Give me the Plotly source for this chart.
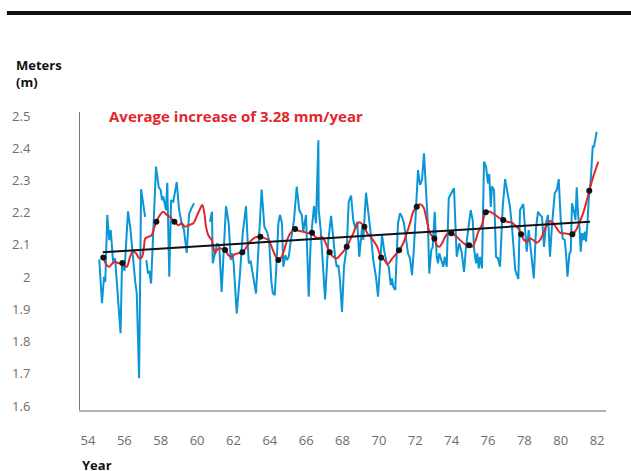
import plotly.graph_objects as go

# ---------------- data ----------------
blue_year = [54.62, 54.77, 54.88, 54.95, 55.06, 55.17, 55.25, 55.34, 55.38, 55.49, 55.79, 55.87, 56.01,
             56.20, 56.33, 56.59, 56.68, 56.81, 56.92, 57.14, None,
             57.21, 57.30, 57.37, 57.47, 57.74, 57.89, 58.00, 58.07, 58.14, 58.29, 58.36, 58.47, 58.57,
             58.69, 58.88, 59.01, 59.15, 59.28, 59.43, 59.56, 59.68, 59.83, None,
             60.71, 60.82, 60.86, 60.99, 61.11, 61.22, 61.35, 61.59, 61.74, 61.85, 61.94, 62.01, 62.18,
             62.36, 62.51, 62.69, 62.84, 62.95, 63.06, 63.15, 63.24, 63.39, 63.55, 63.70, 63.85, 63.96,
             64.08, 64.16, 64.27, 64.38, 64.47, 64.56, 64.67, 64.74, 64.85, 64.95, 65.04, 65.11, 65.22,
             65.33, 65.48, 65.62, 65.76, 65.84, 65.99, 66.14, 66.25, 66.43, 66.54, 66.67, 66.69, 66.80,
             67.04, 67.22, 67.37, 67.49, 67.59, 67.68, 67.77, 67.86, 67.97, 68.08, 68.23, 68.34, 68.47,
             68.59, 68.70, 68.81, 68.92, 69.07, 69.14, 69.29, 69.44, 69.55, 69.69, 69.84, 69.95, 70.06,
             70.17, 70.30, 70.43, 70.54, 70.65, 70.72, 70.79, 70.90, 71.05, 71.16, 71.27, 71.38, 71.49,
             71.60, 71.71, 71.82, 71.93, 72.04, 72.15, 72.26, 72.37, 72.48, 72.59, 72.70, 72.77, 72.88,
             72.96, 73.07, 73.18, 73.25, 73.32, 73.43, 73.54, 73.62, 73.73, 73.84, 73.98, 74.13, 74.28,
             74.42, 74.56, 74.68, 74.79, 74.92, 75.05, 75.16, 75.23, 75.34, 75.41, 75.49, 75.56, 75.67,
             75.78, 75.89, 76.00, 76.07, 76.15, 76.22, 76.33, 76.44, 76.55, 76.66, 76.81, 76.94, 77.06,
             77.21, 77.32, 77.39, 77.50, 77.67, 77.76, 77.94, 78.05, 78.13, 78.24, 78.31, 78.41, 78.52,
             78.64, 78.75, 78.86, 78.97, 79.08, 79.19, 79.30, 79.41, 79.52, 79.67, 79.78, 79.89, 80.00,
             80.11, 80.22, 80.29, 80.37, 80.48, 80.55, 80.62, 80.73, 80.81, 80.88, 80.95, 81.03, 81.10,
             81.17, 81.25, 81.32, 81.39, 81.47, 81.54, 81.65, 81.76, 81.83, 81.91, 81.98]
blue_value = [2.055, 1.919, 2.001, 1.985, 2.193, 2.115, 2.146, 2.053, 2.048, 2.058, 1.826, 2.040, 2.020,
              2.204, 2.151, 1.990, 1.950, 1.686, 2.273, 2.187, None,
              2.053, 2.011, 2.020, 1.980, 2.343, 2.279, 2.270, 2.239, 2.250, 2.208, 2.293, 2.001, 2.239,
              2.234, 2.295, 2.209, 2.167, 2.146, 2.075, 2.197, 2.212, 2.229, None,
              2.172, 2.203, 2.043, 2.074, 2.105, 2.095, 1.954, 2.220, 2.167, 2.053, 2.074, 2.043, 1.887,
              2.011, 2.136, 2.220, 2.043, 2.048, 2.011, 1.975, 1.949, 2.105, 2.272, 2.156, 2.140, 2.115,
              1.990, 1.951, 1.944, 2.053, 2.167, 2.193, 2.167, 2.032, 2.068, 2.053, 2.063, 2.094, 2.136,
              2.177, 2.281, 2.208, 2.193, 2.141, 2.193, 1.939, 2.115, 2.220, 2.167, 2.425, 2.208, 2.146,
              1.931, 2.115, 2.190, 2.115, 2.063, 2.032, 2.037, 1.990, 1.892, 2.032, 2.094, 2.234, 2.253,
              2.177, 2.151, 2.172, 2.063, 2.151, 2.115, 2.262, 2.198, 2.136, 2.053, 2.001, 1.939, 2.053,
              2.130, 2.079, 2.043, 2.032, 1.975, 1.996, 1.970, 1.960, 2.167, 2.198, 2.187, 2.167, 2.115,
              2.074, 2.058, 2.006, 2.094, 2.218, 2.332, 2.286, 2.301, 2.384, 2.265, 2.156, 2.011, 2.084,
              2.094, 2.203, 2.063, 2.043, 2.074, 2.053, 2.032, 2.063, 2.032, 2.245, 2.260, 2.276, 2.063,
              2.105, 2.074, 2.016, 2.094, 2.156, 2.208, 2.177, 2.089, 2.043, 2.074, 2.027, 2.063, 2.027,
              2.358, 2.343, 2.291, 2.320, 2.218, 2.281, 2.270, 2.063, 2.058, 2.032, 2.218, 2.304, 2.270,
              2.218, 2.156, 2.094, 2.022, 1.994, 2.208, 2.227, 2.156, 2.079, 2.146, 2.105, 2.058, 1.996,
              2.151, 2.203, 2.193, 2.187, 2.094, 2.167, 2.193, 2.063, 2.161, 2.260, 2.270, 2.304, 2.177,
              2.120, 2.115, 2.074, 2.001, 2.074, 2.079, 2.229, 2.203, 2.177, 2.279, 2.198, 2.156, 2.079,
              2.136, 2.115, 2.141, 2.110, 2.167, 2.239, 2.301, 2.405, 2.405, 2.434, 2.451]

smooth_year = [54.84, 55.03, 55.17, 55.30, 55.49, 55.67, 55.89, 56.13, 56.31, 56.46, 56.64, 56.82, 56.97,
               57.08, 57.15, 57.32, 57.50, 57.63, 57.76, 57.96, 58.14, 58.33, 58.51, 58.75, 58.97, 59.15,
               59.34, 59.52, 59.79, 60.01, 60.20, 60.29, 60.40, 60.49, 60.62, 60.80, 60.99, 61.08, 61.26,
               61.54, 61.72, 61.90, 62.09, 62.27, 62.49, 62.73, 62.91, 63.19, 63.48, 63.74, 63.92, 64.10,
               64.29, 64.47, 64.65, 64.84, 65.02, 65.20, 65.39, 65.57, 65.84, 66.12, 66.32, 66.49, 66.67,
               66.86, 67.04, 67.29, 67.49, 67.68, 67.86, 68.04, 68.23, 68.41, 68.59, 68.74, 68.89, 69.03,
               69.20, 69.36, 69.55, 69.73, 69.91, 70.12, 70.30, 70.49, 70.67, 70.89, 71.11, 71.34, 71.53,
               71.71, 71.89, 72.08, 72.26, 72.44, 72.63, 72.81, 73.05, 73.18, 73.32, 73.47, 73.64, 73.82,
               73.98, 74.19, 74.46, 74.74, 74.96, 75.11, 75.29, 75.47, 75.66, 75.88, 76.11, 76.39, 76.66,
               76.84, 77.06, 77.30, 77.49, 77.67, 77.82, 77.98, 78.13, 78.31, 78.49, 78.68, 78.86, 79.04,
               79.23, 79.41, 79.59, 79.78, 79.96, 80.14, 80.42, 80.64, 80.79, 80.97, 81.16, 81.34, 81.57,
               81.79, 82.07]
smooth_value = [2.061, 2.037, 2.032, 2.040, 2.048, 2.043, 2.044, 2.032, 2.063, 2.079, 2.074, 2.058, 2.063,
                2.094, 2.120, 2.125, 2.130, 2.151, 2.172, 2.193, 2.203, 2.193, 2.187, 2.172, 2.161, 2.167,
                2.156, 2.161, 2.167, 2.193, 2.216, 2.224, 2.198, 2.156, 2.130, 2.115, 2.074, 2.084, 2.089,
                2.084, 2.068, 2.063, 2.071, 2.074, 2.077, 2.094, 2.110, 2.123, 2.125, 2.120, 2.115, 2.094,
                2.068, 2.053, 2.063, 2.094, 2.125, 2.141, 2.151, 2.144, 2.141, 2.136, 2.138, 2.125, 2.120,
                2.125, 2.110, 2.077, 2.063, 2.058, 2.068, 2.079, 2.094, 2.115, 2.136, 2.156, 2.170, 2.167,
                2.156, 2.136, 2.125, 2.110, 2.094, 2.061, 2.053, 2.040, 2.053, 2.068, 2.083, 2.105, 2.136,
                2.167, 2.203, 2.218, 2.226, 2.218, 2.177, 2.136, 2.120, 2.099, 2.094, 2.105, 2.125, 2.136,
                2.136, 2.130, 2.115, 2.102, 2.099, 2.094, 2.110, 2.141, 2.161, 2.201, 2.203, 2.193, 2.182,
                2.177, 2.172, 2.169, 2.161, 2.151, 2.133, 2.115, 2.110, 2.120, 2.115, 2.107, 2.115, 2.136,
                2.161, 2.174, 2.167, 2.151, 2.138, 2.136, 2.134, 2.133, 2.141, 2.161, 2.187, 2.218, 2.268,
                2.312, 2.358]

annual_year = [54.84, 55.89, 57.76, 58.75, 61.54, 62.49, 63.48, 64.47, 65.39, 66.32, 67.29, 68.23,
               69.20, 70.12, 71.11, 72.08, 73.05, 73.98, 74.96, 75.88, 76.84, 77.82, 80.64, 81.57]
annual_value = [2.061, 2.044, 2.172, 2.172, 2.084, 2.077, 2.125, 2.053, 2.149, 2.138, 2.077, 2.094,
                2.156, 2.061, 2.083, 2.218, 2.120, 2.136, 2.099, 2.201, 2.177, 2.133, 2.133, 2.268]

trend_year = [54.81, 81.61]
trend_value = [2.077, 2.172]

x_ticks = list(range(54, 83, 2))
y_ticks = [1.6, 1.7, 1.8, 1.9, 2.0, 2.1, 2.2, 2.3, 2.4, 2.5]
y_tick_text = ["1.6", "1.7", "1.8", "1.9", "2", "2.1", "2.2", "2.3", "2.4", "2.5"]

annotation_text = "Average increase of 3.28 mm/year"

# ---------------- figure ----------------
BLUE = "#0a96d6"
RED = "#e2262b"
FONT = "Open Sans"

fig = go.Figure()
fig.add_trace(go.Scatter(x=blue_year, y=blue_value, mode="lines",
                         line=dict(color=BLUE, width=2), connectgaps=False, hoverinfo="skip"))
fig.add_trace(go.Scatter(x=smooth_year, y=smooth_value, mode="lines",
                         line=dict(color=RED, width=2, shape="spline", smoothing=1.0), hoverinfo="skip"))
fig.add_trace(go.Scatter(x=trend_year, y=trend_value, mode="lines",
                         line=dict(color="#111111", width=2), hoverinfo="skip"))
fig.add_trace(go.Scatter(x=annual_year, y=annual_value, mode="markers",
                         marker=dict(color="#111111", size=6), hoverinfo="skip"))

fig.update_layout(
    width=631, height=471,
    margin=dict(l=80, r=25, t=112, b=61),
    paper_bgcolor="white", plot_bgcolor="white",
    showlegend=False,
    font=dict(family=FONT, color="#6d6d6d", size=13),
    xaxis=dict(range=[53.56, 82.49], tickvals=x_ticks, ticktext=[str(t) for t in x_ticks],
               showgrid=False, zeroline=False, showline=True, linecolor="#b3b3b3", linewidth=2,
               ticks="", ticklabelstandoff=17, tickfont=dict(family=FONT, size=13, color="#6d6d6d")),
    yaxis=dict(range=[1.5876, 2.5124], tickvals=y_ticks, ticktext=y_tick_text,
               showgrid=False, zeroline=False, showline=True, linecolor="#777777", linewidth=1,
               ticks="", ticklabelstandoff=46, tickfont=dict(family=FONT, size=13, color="#6d6d6d")),
    annotations=[
        dict(text="<b>Meters<br>(m)</b>", xref="paper", yref="paper", x=-0.1255, y=1.1946,
             xanchor="left", yanchor="top", align="left", showarrow=False,
             font=dict(family=FONT, size=13, color="#111111")),
        dict(text="<b>Year</b>", xref="paper", yref="paper", x=0.0, y=-0.146,
             xanchor="left", yanchor="top", align="left", showarrow=False,
             font=dict(family=FONT, size=13, color="#111111")),
        dict(text="<b>" + annotation_text + "</b>", xref="paper", yref="paper", x=0.0513, y=0.9866,
             xanchor="left", yanchor="middle", showarrow=False,
             font=dict(family=FONT, size=15, color=RED)),
    ],
    shapes=[dict(type="line", xref="paper", yref="paper", x0=-0.139, x1=1.048, y0=1.3322, y1=1.3322,
                 line=dict(color="#111111", width=4))],
)

fig.write_html("out.html")
